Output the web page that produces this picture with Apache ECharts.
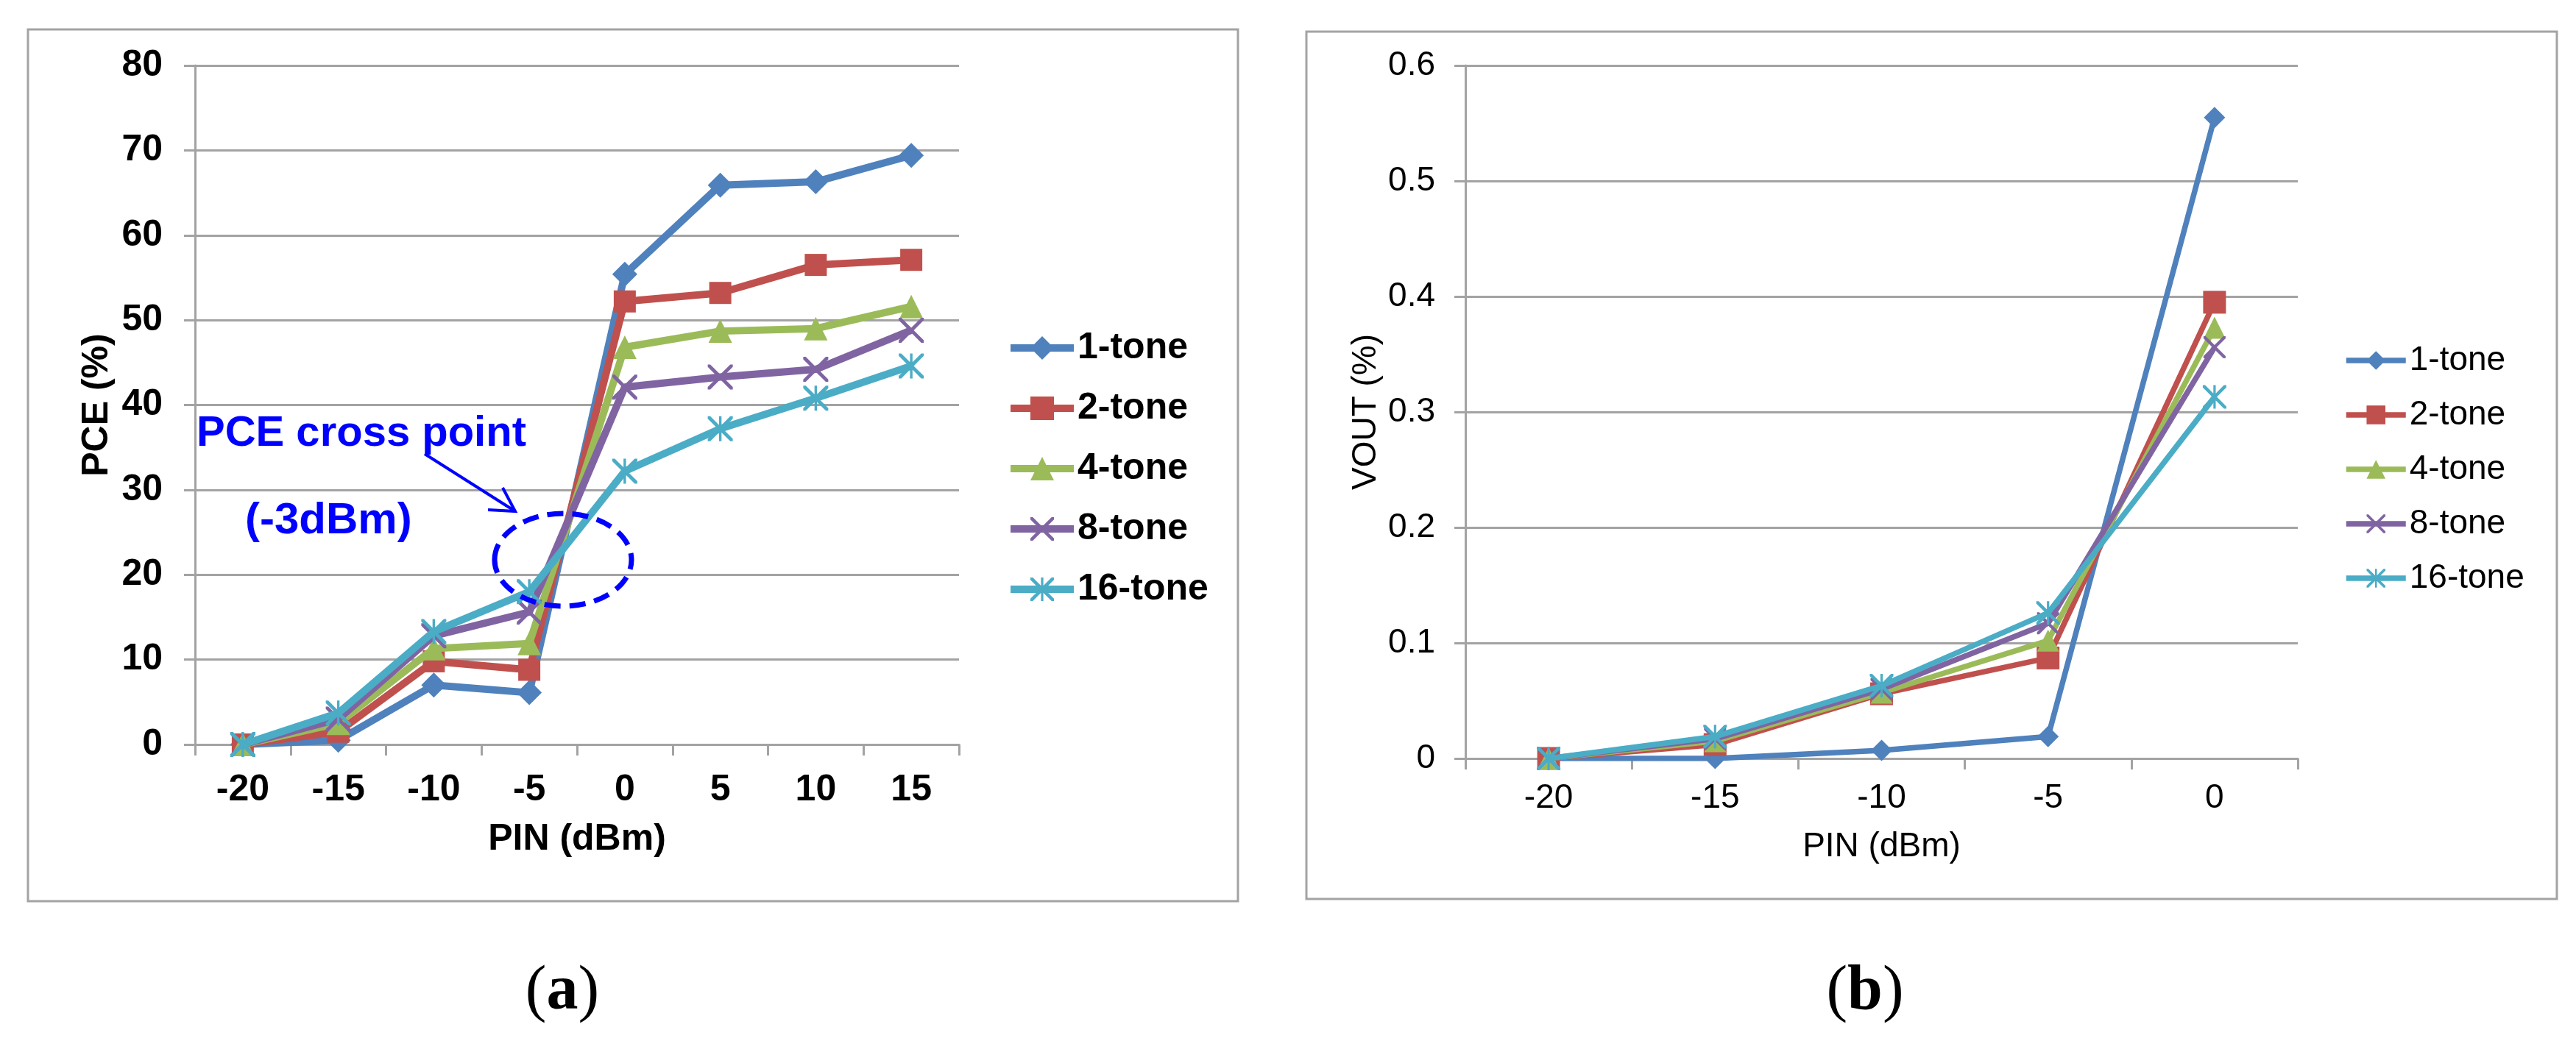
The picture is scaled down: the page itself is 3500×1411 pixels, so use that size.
<!DOCTYPE html>
<html><head><meta charset="utf-8">
<script src="https://cdn.jsdelivr.net/npm/echarts@6/dist/echarts.min.js"></script>
<style>html,body{margin:0;padding:0;background:#fff}#c{width:3500px;height:1411px}</style>
</head><body><div id="c"></div>
<script>
// ---- data ----
const categoriesA = ['-20', '-15', '-10', '-5', '0', '5', '10', '15'];
const categoriesB = ['-20', '-15', '-10', '-5', '0'];
const seriesNames = ['1-tone', '2-tone', '4-tone', '8-tone', '16-tone'];
const yTicksA = [0, 10, 20, 30, 40, 50, 60, 70, 80];
const yTicksB = [0, 0.1, 0.2, 0.3, 0.4, 0.5, 0.6];

const pce1 = [0, 0.5, 7.0, 6.1, 55.4, 65.9, 66.3, 69.4];
const pce2 = [0, 1.5, 9.8, 8.8, 52.2, 53.2, 56.5, 57.1];
const pce4 = [0, 2.5, 11.3, 11.9, 46.8, 48.7, 49.0, 51.6];
const pce8 = [0, 3.0, 12.8, 15.6, 42.1, 43.3, 44.2, 48.8];
const pce16 = [0, 3.7, 13.3, 18.0, 32.2, 37.2, 40.8, 44.6];

const vout1 = [0, 0, 0.007, 0.019, 0.555];
const vout2 = [0, 0.012, 0.056, 0.087, 0.395];
const vout4 = [0, 0.015, 0.057, 0.102, 0.373];
const vout8 = [0, 0.017, 0.060, 0.117, 0.356];
const vout16 = [0, 0.019, 0.063, 0.126, 0.313];

// ---- styles ----
const colors = ['#4F81BD', '#C0504D', '#9BBB59', '#8064A2', '#4BACC6'];
const X_PATH = 'path://M0,0L2,0L10,8L18,0L20,0L20,2L12,10L20,18L20,20L18,20L10,12L2,20L0,20L0,18L8,10L0,2Z';
const STAR_PATH = X_PATH + 'M9,0L11,0L11,20L9,20Z';
const symbols = ['diamond', 'rect', 'triangle', X_PATH, STAR_PATH];
const GRAY = '#a3a3a3';
const SANS = 'Liberation Sans, Arial, sans-serif';
const SERIF = 'Liberation Serif, Times New Roman, serif';

const chart = echarts.init(document.getElementById('c'), null, {renderer: 'canvas'});

function mkSeries(prefix, arrays, axisIdx, lineW, sizes) {
  return arrays.map((arr, i) => ({
    name: prefix + seriesNames[i],
    type: 'line',
    xAxisIndex: axisIdx,
    yAxisIndex: axisIdx,
    data: arr,
    symbol: symbols[i],
    symbolSize: sizes[i],
    showAllSymbol: true,
    color: colors[i],
    lineStyle: {width: lineW, color: colors[i]},
    itemStyle: {color: colors[i]},
    animation: false,
    z: 2 + i * 0.01
  }));
}

const seriesA = mkSeries('', [pce1, pce2, pce4, pce8, pce16], 0, 10, [34, 30, 32, 34, 34]);
const seriesB = mkSeries('b:', [vout1, vout2, vout4, vout8, vout16], 1, 7.5, [29, 31, 30, 30, 32]);

function xAxisCfg(grid, cats, bold, fs, margin, nameGap) {
  return {
    type: 'category', gridIndex: grid, data: cats, boundaryGap: true,
    name: 'PIN (dBm)', nameLocation: 'middle', nameGap: nameGap,
    nameTextStyle: {fontSize: fs, fontWeight: bold ? 'bold' : 'normal', fontFamily: SANS, color: '#000'},
    axisLine: {show: true, lineStyle: {color: GRAY, width: 3}},
    axisTick: {show: true, length: 15, inside: false, lineStyle: {color: GRAY, width: 3}},
    axisLabel: {margin: margin, fontSize: fs, fontWeight: bold ? 'bold' : 'normal', fontFamily: SANS, color: '#000'},
    splitLine: {show: false}
  };
}
function yAxisCfg(grid, ticks, name, bold, fs, margin, nameGap, dec) {
  return {
    type: 'value', gridIndex: grid, min: ticks[0], max: ticks[ticks.length - 1],
    interval: ticks[1] - ticks[0],
    name: name, nameLocation: 'middle', nameGap: nameGap,
    nameTextStyle: {fontSize: fs, fontWeight: bold ? 'bold' : 'normal', fontFamily: SANS, color: '#000'},
    axisLine: {show: true, lineStyle: {color: GRAY, width: 3}},
    axisTick: {show: true, length: 15, lineStyle: {color: GRAY, width: 3}},
    axisLabel: {margin: margin, fontSize: fs, fontWeight: bold ? 'bold' : 'normal', fontFamily: SANS, color: '#000',
      formatter: v => String(+v.toFixed(dec))},
    splitLine: {show: true, lineStyle: {color: GRAY, width: 3}}
  };
}

const option = {
  backgroundColor: '#fff',
  animation: false,
  grid: [
    {left: 265, top: 89, width: 1038, height: 923, containLabel: false},
    {left: 1991, top: 89, width: 1131, height: 942, containLabel: false}
  ],
  xAxis: [
    xAxisCfg(0, categoriesA, true, 50, 37, 104),
    xAxisCfg(1, categoriesB, false, 46, 31, 97)
  ],
  yAxis: [
    yAxisCfg(0, yTicksA, 'PCE (%)', true, 50, 44, 108, 0),
    yAxisCfg(1, yTicksB, 'VOUT (%)', false, 46, 41, 112, 1)
  ],
  legend: [
    {orient: 'vertical', left: 1363, top: 443, itemWidth: 86, itemHeight: 40, itemGap: 32,
      data: seriesNames.slice(), selectedMode: false,
      lineStyle: {width: 10},
      textStyle: {fontSize: 50, fontWeight: 'bold', fontFamily: SANS, color: '#000'}},
    {orient: 'vertical', left: 3179, top: 462, itemWidth: 81, itemHeight: 32, itemGap: 28,
      data: seriesNames.map(n => 'b:' + n), selectedMode: false,
      lineStyle: {width: 7.5},
      formatter: n => n.replace(/^b:/, ''),
      textStyle: {fontSize: 46, fontWeight: 'normal', fontFamily: SANS, color: '#000'}}
  ],
  series: seriesA.concat(seriesB),
  graphic: [
    {type: 'rect', shape: {x: 38, y: 40, width: 1644, height: 1185}, style: {fill: 'none', stroke: GRAY, lineWidth: 3}, z: -10},
    {type: 'rect', shape: {x: 1775, y: 43, width: 1699, height: 1179}, style: {fill: 'none', stroke: GRAY, lineWidth: 3}, z: -10},
    {type: 'text', x: 267, y: 590, z: 10, style: {text: 'PCE cross point', fill: '#0000FF', font: 'bold 58px ' + SANS, textVerticalAlign: 'middle', textAlign: 'left'}},
    {type: 'text', x: 333, y: 708, z: 10, style: {text: '(-3dBm)', fill: '#0000FF', font: 'bold 60px ' + SANS, textVerticalAlign: 'middle', textAlign: 'left'}},
    {type: 'line', z: 10, shape: {x1: 577, y1: 617, x2: 700, y2: 695}, style: {stroke: '#0000FF', lineWidth: 4}},
    {type: 'polyline', z: 10, shape: {points: [[663, 693], [700, 695], [683, 663]]}, style: {stroke: '#0000FF', lineWidth: 4, fill: 'none'}},
    {type: 'ellipse', z: 10, shape: {cx: 765, cy: 761, rx: 93, ry: 63}, style: {fill: 'none', stroke: '#0000FF', lineWidth: 7, lineDash: [22, 12]}},
    {type: 'text', x: 764, y: 1349, style: {
      text: '{p|(}{b|a}{p|)}', textAlign: 'center', textVerticalAlign: 'middle',
      rich: {p: {fontSize: 86, fontFamily: SERIF, fill: '#000'}, b: {fontSize: 86, fontFamily: SERIF, fontWeight: 'bold', fill: '#000'}}}},
    {type: 'text', x: 2534, y: 1349, style: {
      text: '{p|(}{b|b}{p|)}', textAlign: 'center', textVerticalAlign: 'middle',
      rich: {p: {fontSize: 86, fontFamily: SERIF, fill: '#000'}, b: {fontSize: 86, fontFamily: SERIF, fontWeight: 'bold', fill: '#000'}}}}
  ]
};
chart.setOption(option);
</script>
</body></html>
